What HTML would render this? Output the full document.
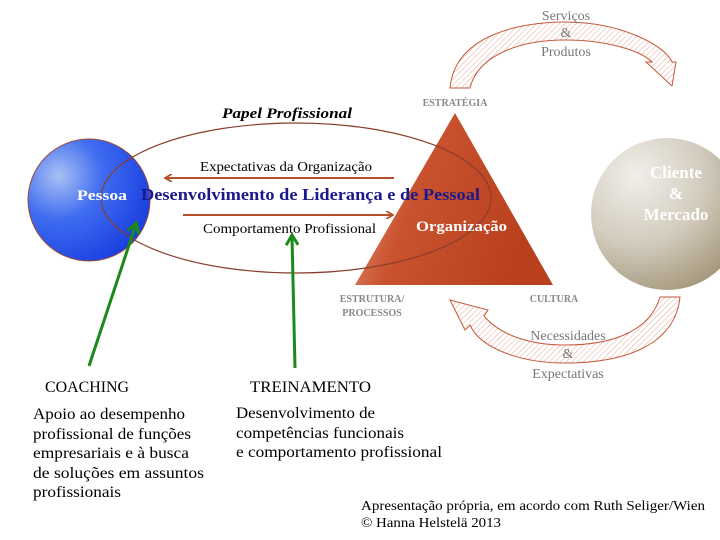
<!DOCTYPE html>
<html><head><meta charset="utf-8"><style>
html,body{margin:0;padding:0;background:#fff;}
svg{display:block;font-family:"Liberation Serif",serif;}
</style></head><body>
<svg width="720" height="540" viewBox="0 0 720 540" xmlns="http://www.w3.org/2000/svg">
<defs>
<radialGradient id="blue" cx="0.25" cy="0.3" r="0.8">
<stop offset="0" stop-color="#a9c0f5"/><stop offset="0.45" stop-color="#3f6cf0"/><stop offset="1" stop-color="#1b3fe0"/>
</radialGradient>
<linearGradient id="tri" x1="0" y1="0" x2="1" y2="0.3">
<stop offset="0" stop-color="#e9a48c"/><stop offset="0.4" stop-color="#c9532e"/><stop offset="1" stop-color="#b8401c"/>
</linearGradient>
<radialGradient id="grey" cx="0.3" cy="0.25" r="0.9">
<stop offset="0" stop-color="#f1efea"/><stop offset="0.5" stop-color="#d2cbbd"/><stop offset="1" stop-color="#9c8c6e"/>
</radialGradient>
<pattern id="hatch" width="4" height="4" patternUnits="userSpaceOnUse" patternTransform="rotate(45)">
<rect width="4" height="4" fill="#fff"/><line x1="0" y1="0" x2="0" y2="4" stroke="#e2a898" stroke-width="1"/>
</pattern>
<marker id="ah" markerWidth="8" markerHeight="8" refX="6" refY="4" orient="auto" markerUnits="userSpaceOnUse">
<path d="M0,0 L7,4 L0,8" fill="none" stroke="#b5502c" stroke-width="1.8"/>
</marker>
<marker id="gh" markerWidth="14" markerHeight="14" refX="10" refY="7" orient="auto" markerUnits="userSpaceOnUse">
<path d="M1,1 L11,7 L1,13" fill="none" stroke="#1a8a1a" stroke-width="3"/>
</marker>
</defs>

<path d="M450,88 C455,35 520,22 565,22 C620,22 665,45 672,62 L676,62 L672,86 L646,62 L652,62 C640,50 605,40 565,40 C520,40 478,55 470,88 Z" fill="url(#hatch)" stroke="#c55a3a" stroke-width="1"/>
<path d="M660,297 L680,297 C675,345 625,363 565,363 C520,363 480,348 470,325 L465,330 L450,300 L488,310 L484,316 C500,335 530,345 565,345 C615,345 650,330 660,297 Z" fill="url(#hatch)" stroke="#c55a3a" stroke-width="1"/>

<circle cx="667" cy="214" r="76" fill="url(#grey)"/>
<text x="676" y="178" font-size="17" font-weight="bold" fill="#fff" text-anchor="middle">Cliente</text>
<text x="676" y="199" font-size="17" font-weight="bold" fill="#fff" text-anchor="middle">&amp;</text>
<text x="676" y="220" font-size="17" font-weight="bold" fill="#fff" text-anchor="middle">Mercado</text>

<circle cx="89" cy="200" r="61" fill="url(#blue)" stroke="#9a4a3a" stroke-width="1"/>
<polygon points="455,113 355,285 553,285" fill="url(#tri)"/>
<ellipse cx="296" cy="198" rx="195" ry="75" fill="none" stroke="#8a3d2c" stroke-width="1.2"/>

<text x="222" y="118" font-size="15" font-weight="bold" font-style="italic" textLength="130" lengthAdjust="spacingAndGlyphs">Papel Profissional</text>
<text x="455" y="106" font-size="10" font-weight="bold" fill="#888" text-anchor="middle">ESTRATÉGIA</text>
<text x="372" y="302" font-size="10" font-weight="bold" fill="#888" text-anchor="middle">ESTRUTURA/</text>
<text x="372" y="316" font-size="10" font-weight="bold" fill="#888" text-anchor="middle">PROCESSOS</text>
<text x="554" y="302" font-size="10" font-weight="bold" fill="#888" text-anchor="middle">CULTURA</text>

<text x="566" y="20" font-size="14" fill="#777" text-anchor="middle">Serviços</text>
<text x="566" y="37" font-size="14" fill="#777" text-anchor="middle">&amp;</text>
<text x="566" y="56" font-size="14" fill="#777" text-anchor="middle">Produtos</text>
<text x="568" y="340" font-size="14" fill="#777" text-anchor="middle">Necessidades</text>
<text x="568" y="358" font-size="14" fill="#777" text-anchor="middle">&amp;</text>
<text x="568" y="378" font-size="14" fill="#777" text-anchor="middle">Expectativas</text>

<line x1="394" y1="178" x2="166" y2="178" stroke="#b5502c" stroke-width="2" marker-end="url(#ah)"/>
<line x1="183" y1="215" x2="392" y2="215" stroke="#b5502c" stroke-width="2" marker-end="url(#ah)"/>
<text x="200" y="171" font-size="14" textLength="172" lengthAdjust="spacingAndGlyphs">Expectativas da Organização</text>
<text x="203" y="233" font-size="14" textLength="173" lengthAdjust="spacingAndGlyphs">Comportamento Profissional</text>

<text x="77" y="200" font-size="15" font-weight="bold" fill="#fff" textLength="50" lengthAdjust="spacingAndGlyphs">Pessoa</text>
<text x="141" y="200" font-size="17" font-weight="bold" fill="#1a1a8c" textLength="339" lengthAdjust="spacingAndGlyphs">Desenvolvimento de Liderança e de Pessoal</text>
<text x="416" y="231" font-size="15" font-weight="bold" fill="#fff" textLength="91" lengthAdjust="spacingAndGlyphs">Organização</text>

<line x1="89" y1="366" x2="136" y2="224" stroke="#1a8a1a" stroke-width="3" marker-end="url(#gh)"/>
<line x1="295" y1="368" x2="292" y2="236" stroke="#1a8a1a" stroke-width="3" marker-end="url(#gh)"/>

<g font-size="16">
<text x="45" y="392" textLength="84" lengthAdjust="spacingAndGlyphs">COACHING</text>
<text x="250" y="392" textLength="121" lengthAdjust="spacingAndGlyphs">TREINAMENTO</text>
<text x="33" y="419" textLength="152" lengthAdjust="spacingAndGlyphs">Apoio ao desempenho</text>
<text x="33" y="439" textLength="158" lengthAdjust="spacingAndGlyphs">profissional de funções</text>
<text x="33" y="458" textLength="156" lengthAdjust="spacingAndGlyphs">empresariais e à busca</text>
<text x="33" y="478" textLength="171" lengthAdjust="spacingAndGlyphs">de  soluções em assuntos</text>
<text x="33" y="497" textLength="88" lengthAdjust="spacingAndGlyphs">profissionais</text>
<text x="236" y="418" textLength="139" lengthAdjust="spacingAndGlyphs">Desenvolvimento de</text>
<text x="236" y="438" textLength="168" lengthAdjust="spacingAndGlyphs">competências funcionais</text>
<text x="236" y="457" textLength="206" lengthAdjust="spacingAndGlyphs">e comportamento profissional</text>
</g>
<text x="361" y="510" font-size="14" textLength="344" lengthAdjust="spacingAndGlyphs">Apresentação própria, em acordo com Ruth Seliger/Wien</text>
<text x="361" y="527" font-size="14" textLength="140" lengthAdjust="spacingAndGlyphs">© Hanna Helstelä 2013</text>
</svg>
</body></html>
